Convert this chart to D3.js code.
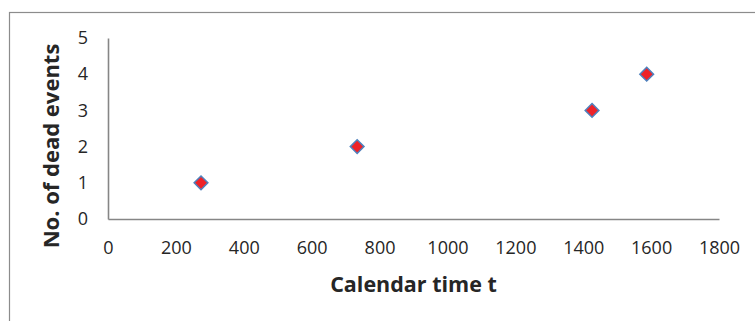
<!DOCTYPE html>
<html>
<head>
<meta charset="utf-8">
<script src="https://cdn.jsdelivr.net/npm/d3@7/dist/d3.min.js"></script>
<style>
  html, body { margin: 0; padding: 0; background: #fff; }
  svg { display: block; }
  text { font-family: "Open Sans", "Liberation Sans", sans-serif; fill: #262626; }
</style>
</head>
<body>
<svg id="chart" width="755" height="321"></svg>
<script>
// Calendar time of each death and cumulative count
const eventTimes = [274, 734, 1426, 1587];
const eventCounts = [1, 2, 3, 4];
const xTicks = [0, 200, 400, 600, 800, 1000, 1200, 1400, 1600, 1800];
const yTicks = [0, 1, 2, 3, 4, 5];
const xTitle = "Calendar time t";
const yTitle = "No. of dead events";

const svg = d3.select("#chart");
const plot = { left: 108, right: 719, top: 38, bottom: 219 };

// outer chart frame
svg.append("rect")
  .attr("x", 9.5).attr("y", 12.5)
  .attr("width", 800).attr("height", 400)
  .attr("fill", "none").attr("stroke", "#8c8c8c").attr("stroke-width", 1.2);

const x = d3.scaleLinear().domain([0, 1800]).range([plot.left, plot.right]);
const y = d3.scaleLinear().domain([0, 5]).range([plot.bottom, plot.top]);

const xAxis = svg.append("g")
  .attr("transform", `translate(0,${plot.bottom})`)
  .call(d3.axisBottom(x).tickValues(xTicks).tickSize(0).tickPadding(22).tickFormat(d3.format("d")));
const yAxis = svg.append("g")
  .attr("transform", `translate(${plot.left},0)`)
  .call(d3.axisLeft(y).tickValues(yTicks).tickSize(0).tickPadding(20).tickFormat(d3.format("d")));

[xAxis, yAxis].forEach(g => {
  g.select(".domain").attr("stroke", "#868686").attr("stroke-width", 1.6);
  g.selectAll("text")
    .style("font-family", "'Open Sans', sans-serif")
    .style("font-size", "18px").attr("fill", "#262626");
});

// data markers: red diamonds with blue outline
svg.append("g").selectAll("path")
  .data(eventTimes.map((t, i) => [t, eventCounts[i]]))
  .join("path")
  .attr("d", d3.symbol(d3.symbolDiamond2, 120))
  .attr("transform", d => `translate(${x(d[0])},${y(d[1])})`)
  .attr("fill", "#ee2228")
  .attr("stroke", "#4f81bd")
  .attr("stroke-width", 1.5);

svg.append("text")
  .attr("x", (plot.left + plot.right) / 2)
  .attr("y", 292)
  .attr("text-anchor", "middle")
  .style("font-size", "21.5px").style("font-weight", "bold")
  .text(xTitle);

svg.append("text")
  .attr("transform", "translate(59,146) rotate(-90)")
  .attr("text-anchor", "middle")
  .style("font-size", "22px").style("font-weight", "bold")
  .text(yTitle);
</script>
</body>
</html>
